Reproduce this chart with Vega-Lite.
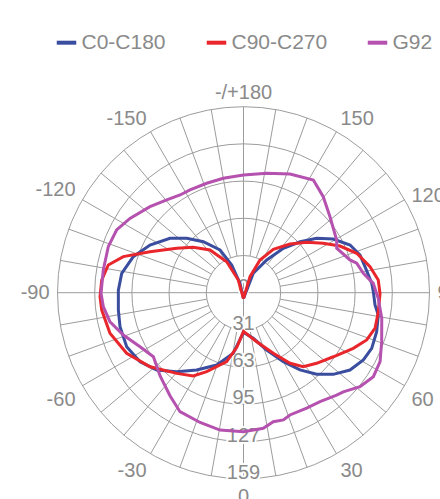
{
  "$schema": "https://vega.github.io/schema/vega-lite/v6.json",
  "width": 372,
  "height": 372,
  "autosize": {"type": "none"},
  "padding": {"left": 57.5, "top": 106.7, "right": 10.5, "bottom": 20.3},
  "background": "white",
  "config": {
    "view": {"stroke": null},
    "font": "Liberation Sans",
    "legend": {
      "orient": "none",
      "legendX": -3,
      "legendY": -76,
      "direction": "horizontal",
      "title": null,
      "symbolType": "stroke",
      "symbolStrokeWidth": 4,
      "symbolSize": 380,
      "labelFontSize": 21,
      "labelColor": "#8a8a8a",
      "labelFont": "Liberation Sans",
      "columnPadding": 32,
      "labelOffset": 3
    }
  },
  "datasets": {
    "rings": [{"r": 31.8}, {"r": 63.6}, {"r": 95.4}, {"r": 127.2}, {"r": 159}],
    "spokes": [
      {"a": -170, "r0": 31.8}, {"a": -160, "r0": 31.8}, {"a": -150, "r0": 31.8}, {"a": -140, "r0": 31.8},
      {"a": -130, "r0": 31.8}, {"a": -120, "r0": 31.8}, {"a": -110, "r0": 31.8}, {"a": -100, "r0": 31.8},
      {"a": -90, "r0": 0}, {"a": -80, "r0": 31.8}, {"a": -70, "r0": 31.8}, {"a": -60, "r0": 31.8},
      {"a": -50, "r0": 31.8}, {"a": -40, "r0": 31.8}, {"a": -30, "r0": 31.8}, {"a": -20, "r0": 31.8},
      {"a": -10, "r0": 31.8}, {"a": 0, "r0": 0}, {"a": 10, "r0": 31.8}, {"a": 20, "r0": 31.8},
      {"a": 30, "r0": 31.8}, {"a": 40, "r0": 31.8}, {"a": 50, "r0": 31.8}, {"a": 60, "r0": 31.8},
      {"a": 70, "r0": 31.8}, {"a": 80, "r0": 31.8}, {"a": 90, "r0": 0}, {"a": 100, "r0": 31.8},
      {"a": 110, "r0": 31.8}, {"a": 120, "r0": 31.8}, {"a": 130, "r0": 31.8}, {"a": 140, "r0": 31.8},
      {"a": 150, "r0": 31.8}, {"a": 160, "r0": 31.8}, {"a": 170, "r0": 31.8}, {"a": 180, "r0": 0}
    ],
    "radial": [
      {"v": 0, "t": "0"}, {"v": 31.8, "t": "31"}, {"v": 63.6, "t": "63"},
      {"v": 95.4, "t": "95"}, {"v": 127.2, "t": "127"}, {"v": 159, "t": "159"}
    ],
    "angles": [
      {"a": 0, "t": "0"}, {"a": 30, "t": "30"}, {"a": 60, "t": "60"}, {"a": 90, "t": "90"},
      {"a": 120, "t": "120"}, {"a": 150, "t": "150"}, {"a": 180, "t": "-/+180"},
      {"a": -150, "t": "-150"}, {"a": -120, "t": "-120"}, {"a": -90, "t": "-90"},
      {"a": -60, "t": "-60"}, {"a": -30, "t": "-30"}
    ],
    "curves": [
      {"s": "C0-C180", "a": -180, "v": -5},
      {"s": "C0-C180", "a": -159.6, "v": 8.6},
      {"s": "C0-C180", "a": -156.9, "v": 25.7},
      {"s": "C0-C180", "a": -151.2, "v": 41.7},
      {"s": "C0-C180", "a": -141.8, "v": 55.5},
      {"s": "C0-C180", "a": -133.8, "v": 67.2},
      {"s": "C0-C180", "a": -126.5, "v": 78.2},
      {"s": "C0-C180", "a": -117, "v": 89.7},
      {"s": "C0-C180", "a": -108.1, "v": 99.1},
      {"s": "C0-C180", "a": -99, "v": 105.4},
      {"s": "C0-C180", "a": -91.2, "v": 107},
      {"s": "C0-C180", "a": -82.1, "v": 108},
      {"s": "C0-C180", "a": -74.6, "v": 109.5},
      {"s": "C0-C180", "a": -65.2, "v": 110},
      {"s": "C0-C180", "a": -56.3, "v": 106.3},
      {"s": "C0-C180", "a": -48.3, "v": 99.4},
      {"s": "C0-C180", "a": -40.2, "v": 88.4},
      {"s": "C0-C180", "a": -31.2, "v": 77.3},
      {"s": "C0-C180", "a": -20.3, "v": 65.9},
      {"s": "C0-C180", "a": -9.6, "v": 52.5},
      {"s": "C0-C180", "a": 0, "v": 34},
      {"s": "C0-C180", "a": 12.1, "v": 39.9},
      {"s": "C0-C180", "a": 22, "v": 52.8},
      {"s": "C0-C180", "a": 30, "v": 68.1},
      {"s": "C0-C180", "a": 36.2, "v": 81.8},
      {"s": "C0-C180", "a": 41.9, "v": 93.7},
      {"s": "C0-C180", "a": 47.7, "v": 103.7},
      {"s": "C0-C180", "a": 54, "v": 112.5},
      {"s": "C0-C180", "a": 60.7, "v": 117.5},
      {"s": "C0-C180", "a": 66.5, "v": 119.5},
      {"s": "C0-C180", "a": 73.7, "v": 118.6},
      {"s": "C0-C180", "a": 80.6, "v": 116.8},
      {"s": "C0-C180", "a": 84.7, "v": 112.9},
      {"s": "C0-C180", "a": 90.4, "v": 111},
      {"s": "C0-C180", "a": 94.2, "v": 109.9},
      {"s": "C0-C180", "a": 102.1, "v": 106.2},
      {"s": "C0-C180", "a": 107.9, "v": 104.7},
      {"s": "C0-C180", "a": 114.1, "v": 99.8},
      {"s": "C0-C180", "a": 120.9, "v": 89.4},
      {"s": "C0-C180", "a": 126.6, "v": 78},
      {"s": "C0-C180", "a": 132, "v": 65.1},
      {"s": "C0-C180", "a": 138.1, "v": 51},
      {"s": "C0-C180", "a": 144.6, "v": 34.3},
      {"s": "C0-C180", "a": 153.2, "v": 18.6},
      {"s": "C0-C180", "a": 180, "v": -5},

      {"s": "C90-C270", "a": -180, "v": -5},
      {"s": "C90-C270", "a": -157.7, "v": 11.7},
      {"s": "C90-C270", "a": -151.5, "v": 30.1},
      {"s": "C90-C270", "a": -141.9, "v": 46.4},
      {"s": "C90-C270", "a": -132.1, "v": 57.9},
      {"s": "C90-C270", "a": -123.6, "v": 68.6},
      {"s": "C90-C270", "a": -113.7, "v": 87.3},
      {"s": "C90-C270", "a": -106.7, "v": 107.3},
      {"s": "C90-C270", "a": -101.6, "v": 118},
      {"s": "C90-C270", "a": -95.1, "v": 121.7},
      {"s": "C90-C270", "a": -88.4, "v": 122.7},
      {"s": "C90-C270", "a": -83, "v": 122.1},
      {"s": "C90-C270", "a": -73.1, "v": 119.3},
      {"s": "C90-C270", "a": -62.6, "v": 112.5},
      {"s": "C90-C270", "a": -51.6, "v": 101.9},
      {"s": "C90-C270", "a": -39.6, "v": 89.5},
      {"s": "C90-C270", "a": -31.1, "v": 83.2},
      {"s": "C90-C270", "a": -25, "v": 74.5},
      {"s": "C90-C270", "a": -13.7, "v": 60.7},
      {"s": "C90-C270", "a": -7, "v": 47},
      {"s": "C90-C270", "a": 0, "v": 33},
      {"s": "C90-C270", "a": 15.1, "v": 43.4},
      {"s": "C90-C270", "a": 26.2, "v": 57.7},
      {"s": "C90-C270", "a": 33.4, "v": 72.3},
      {"s": "C90-C270", "a": 38.9, "v": 81.3},
      {"s": "C90-C270", "a": 46, "v": 86.9},
      {"s": "C90-C270", "a": 54.5, "v": 94.3},
      {"s": "C90-C270", "a": 63.1, "v": 105.2},
      {"s": "C90-C270", "a": 69, "v": 112.8},
      {"s": "C90-C270", "a": 74.9, "v": 116.5},
      {"s": "C90-C270", "a": 82, "v": 116.4},
      {"s": "C90-C270", "a": 89.7, "v": 116.7},
      {"s": "C90-C270", "a": 95.4, "v": 115.7},
      {"s": "C90-C270", "a": 101.6, "v": 110.4},
      {"s": "C90-C270", "a": 109.2, "v": 102.5},
      {"s": "C90-C270", "a": 115.8, "v": 91.6},
      {"s": "C90-C270", "a": 121.8, "v": 80.2},
      {"s": "C90-C270", "a": 128.6, "v": 69.1},
      {"s": "C90-C270", "a": 136.3, "v": 57.6},
      {"s": "C90-C270", "a": 145.5, "v": 45},
      {"s": "C90-C270", "a": 153.2, "v": 31.3},
      {"s": "C90-C270", "a": 157.9, "v": 14.8},
      {"s": "C90-C270", "a": 180, "v": -5},

      {"s": "G92", "a": -180, "v": 100.6},
      {"s": "G92", "a": -170, "v": 99.3},
      {"s": "G92", "a": -161.4, "v": 98.7},
      {"s": "G92", "a": -152.5, "v": 99},
      {"s": "G92", "a": -147, "v": 99.6},
      {"s": "G92", "a": -140.4, "v": 102.9},
      {"s": "G92", "a": -132.6, "v": 108.6},
      {"s": "G92", "a": -123.2, "v": 116},
      {"s": "G92", "a": -116.3, "v": 121},
      {"s": "G92", "a": -108.8, "v": 122.1},
      {"s": "G92", "a": -99.2, "v": 121.4},
      {"s": "G92", "a": -89.8, "v": 121.8},
      {"s": "G92", "a": -84.3, "v": 120.4},
      {"s": "G92", "a": -77.7, "v": 116.8},
      {"s": "G92", "a": -70.6, "v": 108.9},
      {"s": "G92", "a": -62.4, "v": 99.8},
      {"s": "G92", "a": -54.6, "v": 94.5},
      {"s": "G92", "a": -45.2, "v": 100.6},
      {"s": "G92", "a": -35.5, "v": 108.2},
      {"s": "G92", "a": -28.1, "v": 115.3},
      {"s": "G92", "a": -18.5, "v": 117},
      {"s": "G92", "a": -9.7, "v": 119.1},
      {"s": "G92", "a": 0, "v": 118.8},
      {"s": "G92", "a": 8.3, "v": 117.1},
      {"s": "G92", "a": 13, "v": 113.2},
      {"s": "G92", "a": 17.4, "v": 114},
      {"s": "G92", "a": 20.8, "v": 111.8},
      {"s": "G92", "a": 28.7, "v": 112.4},
      {"s": "G92", "a": 35.1, "v": 113.8},
      {"s": "G92", "a": 42.3, "v": 118.3},
      {"s": "G92", "a": 45.2, "v": 120.2},
      {"s": "G92", "a": 51.1, "v": 128},
      {"s": "G92", "a": 57.1, "v": 132.2},
      {"s": "G92", "a": 63.2, "v": 130.8},
      {"s": "G92", "a": 70.5, "v": 125.3},
      {"s": "G92", "a": 79.5, "v": 120.2},
      {"s": "G92", "a": 87.6, "v": 115.3},
      {"s": "G92", "a": 94.1, "v": 111.2},
      {"s": "G92", "a": 99.2, "v": 103.8},
      {"s": "G92", "a": 104.6, "v": 100},
      {"s": "G92", "a": 107.1, "v": 95.2},
      {"s": "G92", "a": 115.5, "v": 88.3},
      {"s": "G92", "a": 119.5, "v": 91.5},
      {"s": "G92", "a": 131.3, "v": 98.4},
      {"s": "G92", "a": 140.3, "v": 106.7},
      {"s": "G92", "a": 148.2, "v": 113.3},
      {"s": "G92", "a": 158.6, "v": 109},
      {"s": "G92", "a": 169, "v": 104},
      {"s": "G92", "a": 180, "v": 100.6}
    ]
  },
  "layer": [
    {
      "data": {"name": "rings"},
      "mark": {"type": "point", "shape": "circle", "filled": false, "stroke": "#9c9c9c", "strokeWidth": 1, "opacity": 1},
      "encoding": {
        "x": {"datum": 0, "type": "quantitative", "scale": {"domain": [-159, 159], "nice": false, "zero": false}, "axis": null},
        "y": {"datum": 0, "type": "quantitative", "scale": {"domain": [-159, 159], "nice": false, "zero": false}, "axis": null},
        "size": {"field": "r", "type": "quantitative", "scale": {"type": "pow", "exponent": 2, "domain": [0, 159], "range": [0, 138384]}, "legend": null}
      }
    },
    {
      "data": {"name": "spokes"},
      "transform": [
        {"calculate": "datum.r0 * sin(datum.a * PI / 180)", "as": "x1"},
        {"calculate": "-datum.r0 * cos(datum.a * PI / 180)", "as": "y1"},
        {"calculate": "159 * sin(datum.a * PI / 180)", "as": "x2"},
        {"calculate": "-159 * cos(datum.a * PI / 180)", "as": "y2"}
      ],
      "mark": {"type": "rule", "stroke": "#9c9c9c", "strokeWidth": 1},
      "encoding": {
        "x": {"field": "x1", "type": "quantitative", "scale": {"domain": [-159, 159], "nice": false, "zero": false}, "axis": null},
        "y": {"field": "y1", "type": "quantitative", "scale": {"domain": [-159, 159], "nice": false, "zero": false}, "axis": null},
        "x2": {"field": "x2"},
        "y2": {"field": "y2"}
      }
    },
    {
      "data": {"name": "radial"},
      "transform": [{"calculate": "-datum.v", "as": "py"}],
      "mark": {"type": "text", "fontSize": 20, "font": "Liberation Sans", "color": "white", "stroke": "white", "strokeWidth": 4, "align": "center", "baseline": "alphabetic"},
      "encoding": {
        "x": {"datum": 0, "type": "quantitative", "scale": {"domain": [-159, 159], "nice": false, "zero": false}, "axis": null},
        "y": {"field": "py", "type": "quantitative", "scale": {"domain": [-159, 159], "nice": false, "zero": false}, "axis": null},
        "text": {"field": "t"}
      }
    },
    {
      "data": {"name": "radial"},
      "transform": [{"calculate": "-datum.v", "as": "py"}],
      "mark": {"type": "text", "fontSize": 20, "font": "Liberation Sans", "color": "#8a8a8a", "align": "center", "baseline": "alphabetic"},
      "encoding": {
        "x": {"datum": 0, "type": "quantitative", "scale": {"domain": [-159, 159], "nice": false, "zero": false}, "axis": null},
        "y": {"field": "py", "type": "quantitative", "scale": {"domain": [-159, 159], "nice": false, "zero": false}, "axis": null},
        "text": {"field": "t"}
      }
    },
    {
      "data": {"name": "curves"},
      "transform": [
        {"calculate": "datum.v * sin(datum.a * PI / 180)", "as": "px"},
        {"calculate": "-datum.v * cos(datum.a * PI / 180)", "as": "py"}
      ],
      "mark": {"type": "line", "strokeWidth": 3},
      "encoding": {
        "x": {"field": "px", "type": "quantitative", "scale": {"domain": [-159, 159], "nice": false, "zero": false}, "axis": null},
        "y": {"field": "py", "type": "quantitative", "scale": {"domain": [-159, 159], "nice": false, "zero": false}, "axis": null},
        "order": {"field": "a", "type": "quantitative"},
        "color": {
          "field": "s", "type": "nominal",
          "scale": {"domain": ["C0-C180", "C90-C270", "G92"], "range": ["#3a4d9f", "#e8262b", "#b551ae"]},
          "legend": {}
        }
      }
    },
    {
      "data": {"name": "angles"},
      "transform": [
        {"filter": "datum.a == 180"},
        {"calculate": "165.8 * sin(datum.a * PI / 180)", "as": "px"},
        {"calculate": "-165.8 * cos(datum.a * PI / 180)", "as": "py"}
      ],
      "mark": {"type": "text", "fontSize": 20, "font": "Liberation Sans", "color": "#8a8a8a", "align": "center", "baseline": "alphabetic"},
      "encoding": {
        "x": {"field": "px", "type": "quantitative", "scale": {"domain": [-159, 159], "nice": false, "zero": false}, "axis": null},
        "y": {"field": "py", "type": "quantitative", "scale": {"domain": [-159, 159], "nice": false, "zero": false}, "axis": null},
        "text": {"field": "t"}
      }
    },
    {
      "data": {"name": "angles"},
      "transform": [
        {"filter": "datum.a == 0"},
        {"calculate": "165.8 * sin(datum.a * PI / 180)", "as": "px"},
        {"calculate": "-165.8 * cos(datum.a * PI / 180)", "as": "py"}
      ],
      "mark": {"type": "text", "fontSize": 20, "font": "Liberation Sans", "color": "#8a8a8a", "align": "center", "baseline": "top"},
      "encoding": {
        "x": {"field": "px", "type": "quantitative", "scale": {"domain": [-159, 159], "nice": false, "zero": false}, "axis": null},
        "y": {"field": "py", "type": "quantitative", "scale": {"domain": [-159, 159], "nice": false, "zero": false}, "axis": null},
        "text": {"field": "t"}
      }
    },
    {
      "data": {"name": "angles"},
      "transform": [
        {"filter": "datum.a == 150"},
        {"calculate": "165.8 * sin(datum.a * PI / 180)", "as": "px"},
        {"calculate": "-165.8 * cos(datum.a * PI / 180)", "as": "py"}
      ],
      "mark": {"type": "text", "fontSize": 20, "font": "Liberation Sans", "color": "#8a8a8a", "align": "left", "baseline": "alphabetic"},
      "encoding": {
        "x": {"field": "px", "type": "quantitative", "scale": {"domain": [-159, 159], "nice": false, "zero": false}, "axis": null},
        "y": {"field": "py", "type": "quantitative", "scale": {"domain": [-159, 159], "nice": false, "zero": false}, "axis": null},
        "text": {"field": "t"}
      }
    },
    {
      "data": {"name": "angles"},
      "transform": [
        {"filter": "datum.a == 120 || datum.a == 90"},
        {"calculate": "165.8 * sin(datum.a * PI / 180)", "as": "px"},
        {"calculate": "-165.8 * cos(datum.a * PI / 180)", "as": "py"}
      ],
      "mark": {"type": "text", "fontSize": 20, "font": "Liberation Sans", "color": "#8a8a8a", "align": "left", "baseline": "middle"},
      "encoding": {
        "x": {"field": "px", "type": "quantitative", "scale": {"domain": [-159, 159], "nice": false, "zero": false}, "axis": null},
        "y": {"field": "py", "type": "quantitative", "scale": {"domain": [-159, 159], "nice": false, "zero": false}, "axis": null},
        "text": {"field": "t"}
      }
    },
    {
      "data": {"name": "angles"},
      "transform": [
        {"filter": "datum.a == 60 || datum.a == 30"},
        {"calculate": "165.8 * sin(datum.a * PI / 180)", "as": "px"},
        {"calculate": "-165.8 * cos(datum.a * PI / 180)", "as": "py"}
      ],
      "mark": {"type": "text", "fontSize": 20, "font": "Liberation Sans", "color": "#8a8a8a", "align": "left", "baseline": "top"},
      "encoding": {
        "x": {"field": "px", "type": "quantitative", "scale": {"domain": [-159, 159], "nice": false, "zero": false}, "axis": null},
        "y": {"field": "py", "type": "quantitative", "scale": {"domain": [-159, 159], "nice": false, "zero": false}, "axis": null},
        "text": {"field": "t"}
      }
    },
    {
      "data": {"name": "angles"},
      "transform": [
        {"filter": "datum.a == -150 || datum.a == -120"},
        {"calculate": "165.8 * sin(datum.a * PI / 180)", "as": "px"},
        {"calculate": "-165.8 * cos(datum.a * PI / 180)", "as": "py"}
      ],
      "mark": {"type": "text", "fontSize": 20, "font": "Liberation Sans", "color": "#8a8a8a", "align": "right", "baseline": "alphabetic"},
      "encoding": {
        "x": {"field": "px", "type": "quantitative", "scale": {"domain": [-159, 159], "nice": false, "zero": false}, "axis": null},
        "y": {"field": "py", "type": "quantitative", "scale": {"domain": [-159, 159], "nice": false, "zero": false}, "axis": null},
        "text": {"field": "t"}
      }
    },
    {
      "data": {"name": "angles"},
      "transform": [
        {"filter": "datum.a == -90"},
        {"calculate": "165.8 * sin(datum.a * PI / 180)", "as": "px"},
        {"calculate": "-165.8 * cos(datum.a * PI / 180)", "as": "py"}
      ],
      "mark": {"type": "text", "fontSize": 20, "font": "Liberation Sans", "color": "#8a8a8a", "align": "right", "baseline": "middle"},
      "encoding": {
        "x": {"field": "px", "type": "quantitative", "scale": {"domain": [-159, 159], "nice": false, "zero": false}, "axis": null},
        "y": {"field": "py", "type": "quantitative", "scale": {"domain": [-159, 159], "nice": false, "zero": false}, "axis": null},
        "text": {"field": "t"}
      }
    },
    {
      "data": {"name": "angles"},
      "transform": [
        {"filter": "datum.a == -60 || datum.a == -30"},
        {"calculate": "165.8 * sin(datum.a * PI / 180)", "as": "px"},
        {"calculate": "-165.8 * cos(datum.a * PI / 180)", "as": "py"}
      ],
      "mark": {"type": "text", "fontSize": 20, "font": "Liberation Sans", "color": "#8a8a8a", "align": "right", "baseline": "top"},
      "encoding": {
        "x": {"field": "px", "type": "quantitative", "scale": {"domain": [-159, 159], "nice": false, "zero": false}, "axis": null},
        "y": {"field": "py", "type": "quantitative", "scale": {"domain": [-159, 159], "nice": false, "zero": false}, "axis": null},
        "text": {"field": "t"}
      }
    }
  ]
}
